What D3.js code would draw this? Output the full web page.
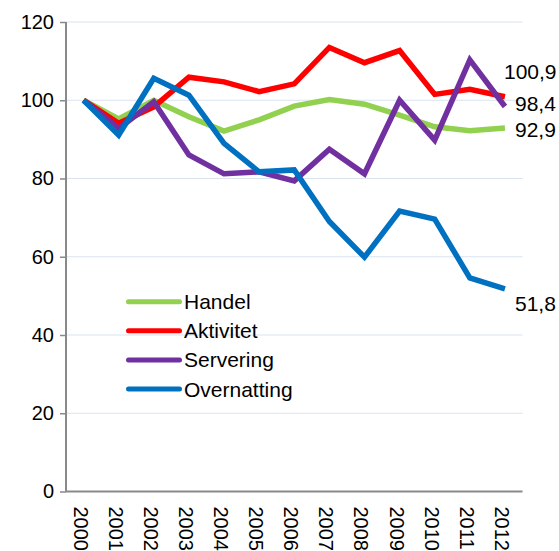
<!DOCTYPE html>
<html><head><meta charset="utf-8">
<script src="https://cdn.jsdelivr.net/npm/d3@7"></script>
<style>body{margin:0;background:#fff}svg{display:block}text{font-family:"Liberation Sans",Arial,sans-serif;fill:#000}</style>
</head><body>
<script>
const years = ["2000","2001","2002","2003","2004","2005","2006","2007","2008","2009","2010","2011","2012"];
const handel = [100,95.2,100,95.8,92.1,95,98.5,100.2,99,96.2,93.2,92.2,92.9];
const aktivitet = [100,94.1,98.3,105.9,104.7,102.2,104.2,113.5,109.6,112.7,101.5,102.8,100.9];
const servering = [100,92.8,99.6,86,81.2,81.7,79.4,87.5,81.2,100,89.8,110.3,98.4];
const overnatting = [100,91.1,105.6,101.3,89,81.7,82.2,69,59.9,71.7,69.6,54.6,51.8];
const seriesNames = ["Handel","Aktivitet","Servering","Overnatting"];
const endLabels = ["92,9","100,9","98,4","51,8"];
const yTicks = [0,20,40,60,80,100,120];

const W=559,H=551;
const svg=d3.select("body").append("svg").attr("width",W).attr("height",H);
const x=d3.scaleBand().domain(years).range([66,522.5]);
const y=d3.scaleLinear().domain([0,120]).range([491.5,22]);
const colors=["#92d050","#ff0000","#7030a0","#0070c0"];
const data=[handel,aktivitet,servering,overnatting];

// gridlines
svg.append("g").selectAll("line").data(yTicks.filter(d=>d>0)).join("line")
  .attr("x1",66).attr("x2",522.5).attr("y1",d=>y(d)).attr("y2",d=>y(d))
  .attr("stroke","#d9e3f1").attr("stroke-width",1);

// y axis
const ya=svg.append("g").attr("transform","translate(66,0)")
  .call(d3.axisLeft(y).tickValues(yTicks).tickSize(6).tickPadding(6));
ya.select(".domain").attr("stroke","#898989").attr("stroke-width",2).attr("d","M0,"+y(120)+"V"+y(0));
ya.selectAll(".tick line").attr("stroke","#898989").attr("stroke-width",1.5);
ya.selectAll(".tick text").attr("font-size",20).attr("font-family","Liberation Sans, Arial, sans-serif").attr("fill","#000");

// x axis
const xa=svg.append("g").attr("transform","translate(0,"+y(0)+")")
  .call(d3.axisBottom(x).tickSize(0).tickPadding(0));
xa.select(".domain").attr("stroke","#898989").attr("stroke-width",2).attr("d","M66,0H522.5");
xa.selectAll(".tick text").attr("font-size",20).attr("font-family","Liberation Sans, Arial, sans-serif").attr("fill","#000")
  .attr("transform","translate(0,15) rotate(90)").attr("text-anchor","start").attr("dy","0.5em").attr("y",0).attr("x",0);

// lines
const line=d3.line().x((d,i)=>x(years[i])+x.bandwidth()/2).y(d=>y(d));
svg.append("g").selectAll("path").data(data).join("path")
  .attr("d",d=>line(d)).attr("fill","none").attr("stroke",(d,i)=>colors[i]).attr("stroke-width",5.5);

// end labels
const labelPos=[[515,130],[504,72],[515,103.5],[515,304]];
svg.append("g").selectAll("text").data(endLabels).join("text")
  .attr("x",(d,i)=>labelPos[i][0]).attr("y",(d,i)=>labelPos[i][1]).attr("dy","0.35em")
  .attr("font-size",21).text(d=>d);

// legend
const lg=svg.append("g").selectAll("g").data(seriesNames).join("g")
  .attr("transform",(d,i)=>"translate(126,"+(301.7+i*29.1)+")");
lg.append("line").attr("x1",2.5).attr("x2",53.5).attr("stroke",(d,i)=>colors[i]).attr("stroke-width",5).attr("stroke-linecap","round");
lg.append("text").attr("x",58).attr("dy","0.36em").attr("font-size",21).text(d=>d);
</script>
</body></html>
